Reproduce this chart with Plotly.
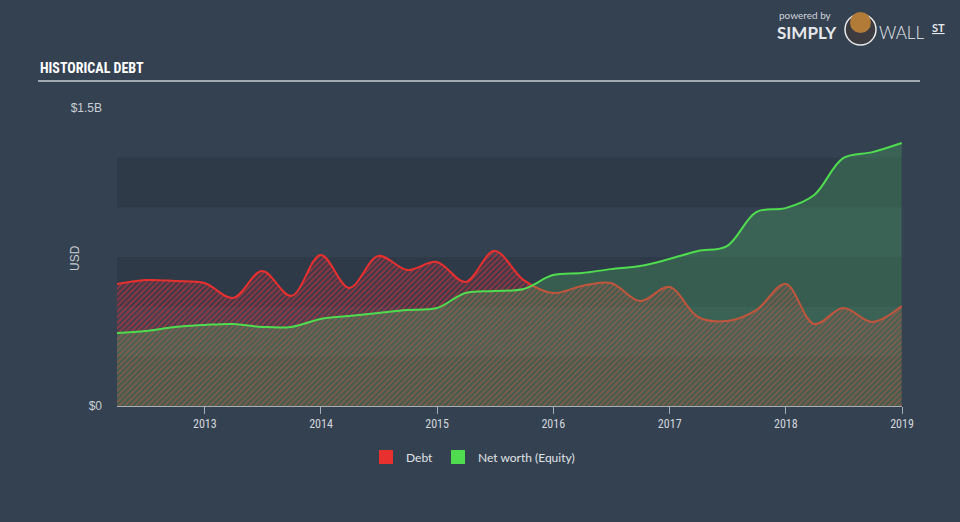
import plotly.graph_objects as go

dates = [
    "2012-03-31", "2012-06-30", "2012-09-30", "2012-12-31",
    "2013-03-31", "2013-06-30", "2013-09-30", "2013-12-31",
    "2014-03-31", "2014-06-30", "2014-09-30", "2014-12-31",
    "2015-03-31", "2015-06-30", "2015-09-30", "2015-12-31",
    "2016-03-31", "2016-06-30", "2016-09-30", "2016-12-31",
    "2017-03-31", "2017-06-30", "2017-09-30", "2017-12-31",
    "2018-03-31", "2018-06-30", "2018-09-30", "2018-12-31",
]
debt = [
    0.614, 0.634, 0.629, 0.619,
    0.544, 0.679, 0.554, 0.760,
    0.594, 0.755, 0.684, 0.725,
    0.624, 0.780, 0.634, 0.569,
    0.604, 0.619, 0.528, 0.599,
    0.448, 0.428, 0.483, 0.614,
    0.413, 0.493, 0.423, 0.503,
]
equity = [
    0.367, 0.377, 0.398, 0.408,
    0.413, 0.398, 0.398, 0.438,
    0.453, 0.468, 0.483, 0.493,
    0.569, 0.579, 0.589, 0.659,
    0.669, 0.689, 0.705, 0.740,
    0.780, 0.805, 0.976, 0.996,
    1.062, 1.248, 1.278, 1.324,
]
debt = [v * 1e9 for v in debt]
equity = [v * 1e9 for v in equity]

year_ticks = ["2013-01-01", "2014-01-01", "2015-01-01", "2016-01-01",
              "2017-01-01", "2018-01-01", "2019-01-01"]
year_labels = ["2013", "2014", "2015", "2016", "2017", "2018", "2019"]
y_ticks = [0, 1.5e9]
y_labels = ["$0", "$1.5B"]

BG = "#344151"
BAND = "#2f3a49"
RED = "#e8302f"
GREEN = "#4fdc4f"

fig = go.Figure()
fig.add_trace(go.Scatter(
    x=dates, y=debt, mode="lines", name="Debt",
    line=dict(color=RED, width=2, shape="spline", smoothing=1),
    fill="tozeroy", fillcolor="rgba(0,0,0,0)",
    fillpattern=dict(shape="/", fgcolor="rgba(226,50,60,1)",
                     bgcolor="rgba(0,0,0,0)", size=4, solidity=0.6),
    showlegend=False, hoverinfo="skip",
))
fig.add_trace(go.Scatter(
    x=dates, y=equity, mode="lines", name="Net worth (Equity)",
    line=dict(color=GREEN, width=2, shape="spline", smoothing=1),
    fill="tozeroy", fillcolor="rgba(76,200,100,0.25)",
    showlegend=False, hoverinfo="skip",
))
# legend proxies
fig.add_trace(go.Scatter(x=[None], y=[None], mode="markers", name="Debt",
                         marker=dict(symbol="square", size=14, color=RED)))
fig.add_trace(go.Scatter(x=[None], y=[None], mode="markers", name="Net worth (Equity)",
                         marker=dict(symbol="square", size=14, color=GREEN)))


def px(xp):
    return (xp - 117) / 785


def py(yp):
    return (406 - yp) / 298


shapes = []
for lo, hi in [(0, 0.25e9), (0.5e9, 0.75e9), (1.0e9, 1.25e9)]:
    shapes.append(dict(type="rect", xref="x domain", yref="y", x0=0, x1=1,
                       y0=lo, y1=hi, fillcolor=BAND, line=dict(width=0),
                       layer="below"))
# title underline
shapes.append(dict(type="line", xref="paper", yref="paper",
                   x0=px(38), x1=px(920), y0=py(81), y1=py(81),
                   line=dict(color="#a3a9b1", width=2)))
# logo bull (simple)
shapes.append(dict(type="circle", xref="paper", yref="paper",
                   x0=px(845), x1=px(876), y0=py(45), y1=py(14),
                   fillcolor="#3c3c40", line=dict(color="#e8e8e8", width=1.5)))
shapes.append(dict(type="circle", xref="paper", yref="paper",
                   x0=px(850), x1=px(871), y0=py(33), y1=py(12),
                   fillcolor="#b27b38", line=dict(width=0)))

annotations = [
    dict(text="<b>HISTORICAL DEBT</b>", x=px(38), y=py(68), xref="paper", yref="paper",
         xanchor="left", yanchor="middle", showarrow=False,
         font=dict(family="Liberation Sans Narrow, Roboto Condensed, Roboto, sans-serif",
                   size=14, color="#ffffff")),
    dict(text="USD", x=px(75), y=py(258), xref="paper", yref="paper", textangle=-90,
         xanchor="center", yanchor="middle", showarrow=False,
         font=dict(family="Liberation Sans, sans-serif", size=12, color="#c9ced4")),
    dict(text="powered by", x=px(777), y=py(15), xref="paper", yref="paper",
         xanchor="left", yanchor="middle", showarrow=False,
         font=dict(family="Lato, sans-serif", size=10, color="#d0d4d9")),
    dict(text="<b>SIMPLY</b>", x=px(775), y=py(33), xref="paper", yref="paper",
         xanchor="left", yanchor="middle", showarrow=False,
         font=dict(family="Lato, sans-serif", size=17, color="#e6e8eb")),
    dict(text="WALL", x=px(877), y=py(33), xref="paper", yref="paper",
         xanchor="left", yanchor="middle", showarrow=False,
         font=dict(family="Lato, sans-serif", size=17, color="#e6e8eb", weight=300)),
    dict(text="<b><u>ST</u></b>", x=px(930), y=py(28), xref="paper", yref="paper",
         xanchor="left", yanchor="middle", showarrow=False,
         font=dict(family="Lato, sans-serif", size=11, color="#e6e8eb")),
]

fig.update_layout(
    width=960, height=522,
    margin=dict(l=117, r=58, t=108, b=116),
    paper_bgcolor=BG, plot_bgcolor=BG,
    shapes=shapes, annotations=annotations,
    showlegend=True,
    legend=dict(orientation="h", x=px(473), xanchor="center", y=py(457), yanchor="middle",
                font=dict(family="Lato, sans-serif", size=12, color="#e0e3e7"),
                bgcolor="rgba(0,0,0,0)", itemsizing="trace"),
    xaxis=dict(type="date", range=["2012-03-31", "2019-01-01"],
               tickvals=year_ticks, ticktext=year_labels,
               showgrid=False, zeroline=False,
               showline=True, linecolor="#a8aeb6", linewidth=1,
               ticks="outside", ticklen=7, tickcolor="#a8aeb6",
               tickfont=dict(family="Liberation Sans Narrow, Roboto Condensed, Roboto, sans-serif",
                             size=12, color="#d3d7dc")),
    yaxis=dict(range=[0, 1.5e9], tickvals=y_ticks, ticktext=y_labels,
               showgrid=False, zeroline=False, showline=False,
               ticks="", ticklabelstandoff=14,
               tickfont=dict(family="Liberation Sans, sans-serif", size=12, color="#c9ced4")),
)

fig.write_html("out.html")
